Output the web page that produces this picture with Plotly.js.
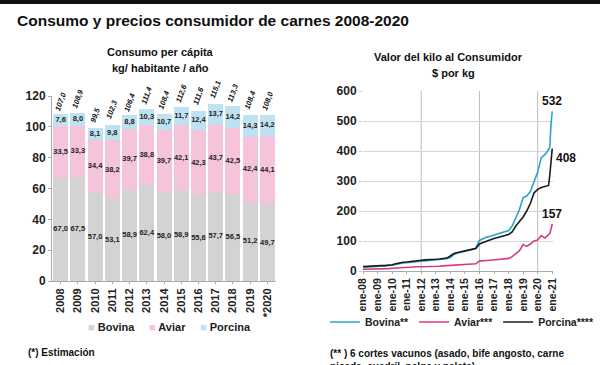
<!DOCTYPE html>
<html><head><meta charset="utf-8">
<script src="https://cdn.plot.ly/plotly-3.0.1.min.js"></script>
<style>html,body{margin:0;padding:0;background:#fff}#c{width:600px;height:365px}</style>
</head><body><div id="c"></div>
<script>
// ---- Consumo per cápita (kg / habitante / año)
const years = ['2008','2009','2010','2011','2012','2013','2014','2015','2016','2017','2018','2019','*2020'];
const bovina  = [67.0,67.5,57.0,53.1,58.9,62.4,58.0,58.9,55.6,57.7,56.5,51.2,49.7];
const aviar   = [33.5,33.3,34.4,38.2,39.7,38.8,39.7,42.1,42.3,43.7,42.5,42.4,44.1];
const porcina = [7.6,8.0,8.1,9.8,8.8,10.3,10.7,11.7,12.4,13.7,14.2,14.3,14.2];
const totales = [107.0,108.9,99.5,102.3,106.4,111.4,108.4,112.6,111.6,115.1,113.3,108.4,108.0];
const seriesNames = ['Bovina','Aviar','Porcina'];

// ---- Valor del kilo al consumidor ($ por kg)
const fechas = ['2008-01-01','2008-04-01','2008-07-01','2008-10-01','2009-01-01','2009-04-01','2009-07-01','2009-10-01',
'2010-01-01','2010-04-01','2010-07-01','2010-10-01','2011-01-01','2011-04-01','2011-07-01','2011-10-01',
'2012-01-01','2012-04-01','2012-07-01','2012-10-01','2013-01-01','2013-04-01','2013-07-01','2013-10-01',
'2014-01-01','2014-04-01','2014-07-01','2014-10-01','2015-01-01','2015-04-01','2015-07-01','2015-10-01',
'2016-01-01','2016-04-01','2016-07-01','2016-10-01','2017-01-01','2017-04-01','2017-07-01','2017-10-01',
'2018-01-01','2018-04-01','2018-07-01','2018-10-01','2019-01-01','2019-04-01','2019-07-01','2019-10-01',
'2020-01-01','2020-04-01','2020-07-01','2020-10-01','2020-11-01','2020-12-01','2021-01-01'];
const precioBovina = [12,13,14,14,15,15,16,17, 19,22,25,27,28,29,31,32, 33,34,35,36,37,38,39,41,
  45,55,60,62,66,70,72,76, 102,108,113,116,120,125,128,132, 135,150,180,205,245,250,265,300,
  330,378,388,405,414,490,532];
const precioAviar = [6,6,7,7,7,7,8,8, 9,10,11,12,12,13,13,14, 14,14,15,15,16,16,17,18,
  19,20,21,21,22,22,23,24, 33,35,35,36,37,38,38,40, 42,48,58,68,88,82,90,100,
  103,118,110,120,125,140,157];
const precioPorcina = [15,16,16,17,17,18,18,19, 21,24,27,29,30,32,34,35, 36,37,37,38,39,40,41,43,
  50,58,62,64,68,70,72,75, 90,95,100,103,108,112,115,118, 122,130,150,165,180,200,225,260,
  272,278,282,285,320,360,408];
const ticksFecha = ['2008-01-01','2009-01-01','2010-01-01','2011-01-01','2012-01-01','2013-01-01','2014-01-01',
  '2015-01-01','2016-01-01','2017-01-01','2018-01-01','2019-01-01','2020-01-01','2021-01-01'];
const ticksTexto = ['ene-08','ene-09','ene-10','ene-11','ene-12','ene-13','ene-14','ene-15','ene-16','ene-17','ene-18','ene-19','ene-20','ene-21'];
const gridFechas = ['2012-01-01','2016-01-01','2020-01-01'];

const FONT = 'Liberation Sans, Arial, sans-serif';
const fmt = v => v.toFixed(1).replace('.', ',');
const barColors = ['#d3d3d3', '#f6c4da', '#bfe2f3'];
const idx = years.map((_, i) => i);

const traces = [];
[bovina, aviar, porcina].forEach((vals, k) => {
  traces.push({type:'bar', x:idx, y:vals, name:seriesNames[k], marker:{color:barColors[k]}, xaxis:'x', yaxis:'y', showlegend:false, hoverinfo:'skip'});
});
// segment labels
const midB = bovina.map(v => v/2);
const midA = bovina.map((v,i) => v + aviar[i]/2);
const midP = bovina.map((v,i) => v + aviar[i] + porcina[i]/2);
[[midB,bovina],[midA,aviar],[midP,porcina]].forEach(([m,vals]) => {
  traces.push({type:'scatter', mode:'text', x:idx, y:m, text:vals.map(fmt), textposition:'middle center',
    textfont:{family:FONT, size:7.5, color:'#222', weight:'bold'}, showlegend:false, xaxis:'x', yaxis:'y', hoverinfo:'skip', cliponaxis:false});
});

traces.push({type:'scatter', mode:'lines', x:fechas, y:precioBovina, name:'Bovina**', line:{color:'#2aa3cf', width:1.6}, xaxis:'x2', yaxis:'y2', legend:'legend2'});
traces.push({type:'scatter', mode:'lines', x:fechas, y:precioAviar, name:'Aviar***', line:{color:'#d63c84', width:1.6}, xaxis:'x2', yaxis:'y2', legend:'legend2'});
traces.push({type:'scatter', mode:'lines', x:fechas, y:precioPorcina, name:'Porcina****', line:{color:'#1a1a1a', width:1.6}, xaxis:'x2', yaxis:'y2', legend:'legend2'});

const annotations = [];
annotations.push({text:'<b>Consumo y precios consumidor de carnes 2008-2020</b>', xref:'paper', yref:'paper', x:15/600, y:1-20/365,
  xanchor:'left', yanchor:'middle', showarrow:false, font:{family:FONT, size:15.5, color:'#111'}});
annotations.push({text:'<b>Consumo per cápita</b>', xref:'paper', yref:'paper', x:160/600, y:1-52/365, xanchor:'center', yanchor:'middle', showarrow:false, font:{family:FONT, size:11, color:'#111'}});
annotations.push({text:'kg/ habitante / año', xref:'paper', yref:'paper', x:160/600, y:1-68/365, xanchor:'center', yanchor:'middle', showarrow:false, font:{family:FONT, size:11, color:'#111', weight:'bold'}});
annotations.push({text:'<b>Valor del kilo al Consumidor</b>', xref:'paper', yref:'paper', x:448/600, y:1-57/365, xanchor:'center', yanchor:'middle', showarrow:false, font:{family:FONT, size:11, color:'#111'}});
annotations.push({text:'$ por kg', xref:'paper', yref:'paper', x:453/600, y:1-73/365, xanchor:'center', yanchor:'middle', showarrow:false, font:{family:FONT, size:11, color:'#111', weight:'bold'}});
annotations.push({text:'(*) Estimación', xref:'paper', yref:'paper', x:26/600, y:1-352/365, xanchor:'left', yanchor:'middle', showarrow:false, font:{family:FONT, size:10, color:'#111', weight:'bold'}});
annotations.push({text:'(** ) 6 cortes vacunos (asado, bife angosto, carne', xref:'paper', yref:'paper', x:328/600, y:1-353/365, xanchor:'left', yanchor:'middle', showarrow:false, font:{family:FONT, size:10, color:'#111', weight:'bold'}});
annotations.push({text:'picada, cuadril, nalga y paleta)', xref:'paper', yref:'paper', x:328/600, y:1-366/365, xanchor:'left', yanchor:'middle', showarrow:false, font:{family:FONT, size:10, color:'#111', weight:'bold'}});
// left legend (small square swatches)
const legX = [86, 147, 198];
seriesNames.forEach((n, k) => {
  annotations.push({text:'<span style="color:'+barColors[k]+'">■</span> '+n, xref:'paper', yref:'paper', x:legX[k]/600, y:1-327/365,
    xanchor:'left', yanchor:'middle', showarrow:false, font:{family:FONT, size:11, color:'#222', weight:'bold'}});
});
// totals above bars
idx.forEach(i => {
  annotations.push({text:'<b><i>'+fmt(totales[i])+'</i></b>', xref:'x', yref:'y', x:i, y:totales[i], yanchor:'bottom', xanchor:'center',
    textangle:-70, yshift:1, showarrow:false, font:{family:FONT, size:7.5, color:'#111'}});
});
// end labels right chart
const last = fechas.length-1;
annotations.push({text:'<b>'+precioBovina[last]+'</b>', xref:'x2', yref:'y2', x:fechas[last], y:precioBovina[last], yanchor:'bottom', xanchor:'center', yshift:1, showarrow:false, font:{family:FONT, size:12, color:'#111'}});
annotations.push({text:'<b>'+precioPorcina[last]+'</b>', xref:'x2', yref:'y2', x:fechas[last], y:precioPorcina[last], yanchor:'middle', xanchor:'left', xshift:2, yshift:-9, showarrow:false, font:{family:FONT, size:12, color:'#111'}});
annotations.push({text:'<b>'+precioAviar[last]+'</b>', xref:'x2', yref:'y2', x:fechas[last], y:precioAviar[last], yanchor:'bottom', xanchor:'center', yshift:1, showarrow:false, font:{family:FONT, size:12, color:'#111'}});

const shapes = [{type:'rect', xref:'paper', yref:'paper', x0:0, x1:1, y0:1-4/365, y1:1, fillcolor:'#111', line:{width:0}}];
gridFechas.forEach(d => shapes.push({type:'line', xref:'x2', yref:'y2', x0:d, x1:d, y0:0, y1:600, line:{color:'#bdbdbd', width:1}, layer:'below'}));

const layout = {
  width:600, height:365, margin:{l:0,r:0,t:0,b:0}, paper_bgcolor:'#fff', plot_bgcolor:'rgba(0,0,0,0)',
  font:{family:FONT, color:'#222'}, barmode:'stack', bargap:0.13, showlegend:true,
  xaxis:{domain:[52/600, 276/600], anchor:'y', range:[-0.5, 12.5], tickvals:idx, ticktext:years, tickangle:-90,
    tickfont:{family:FONT, size:11, color:'#222', weight:'bold'},
    showline:true, linecolor:'#aaa', ticks:'outside', ticklen:2, tickcolor:'#aaa', showgrid:false, zeroline:false},
  yaxis:{domain:[1-281/365, 1-96/365], anchor:'x', range:[0,120], dtick:20, tickfont:{family:FONT, size:12, color:'#222', weight:'bold'},
    showline:true, linecolor:'#aaa', ticks:'outside', ticklen:3, tickcolor:'#aaa', showgrid:false, zeroline:false},
  xaxis2:{domain:[363/600, 553/600], anchor:'y2', type:'date', range:['2008-01-01','2021-01-20'], tickvals:ticksFecha, ticktext:ticksTexto,
    tickangle:-90, tickfont:{family:FONT, size:10.5, color:'#222', weight:'bold'}, showline:true, linecolor:'#aaa', ticks:'outside', ticklen:2, tickcolor:'#aaa', showgrid:false},
  yaxis2:{domain:[1-271/365, 1-91/365], anchor:'x2', range:[0,600], dtick:100, tickfont:{family:FONT, size:12, color:'#222', weight:'bold'},
    showgrid:true, gridcolor:'#d6d6d6', zeroline:false, showline:false, ticks:'outside', ticklen:3, tickcolor:'#ccc'},
  legend2:{orientation:'h', x:462/600, y:1-322/365, xanchor:'center', yanchor:'middle', font:{family:FONT, size:10.5, color:'#222', weight:'bold'},
    itemwidth:30, bgcolor:'rgba(0,0,0,0)'},
  annotations, shapes
};
Plotly.newPlot('c', traces, layout, {displayModeBar:false, staticPlot:true});
</script></body></html>
